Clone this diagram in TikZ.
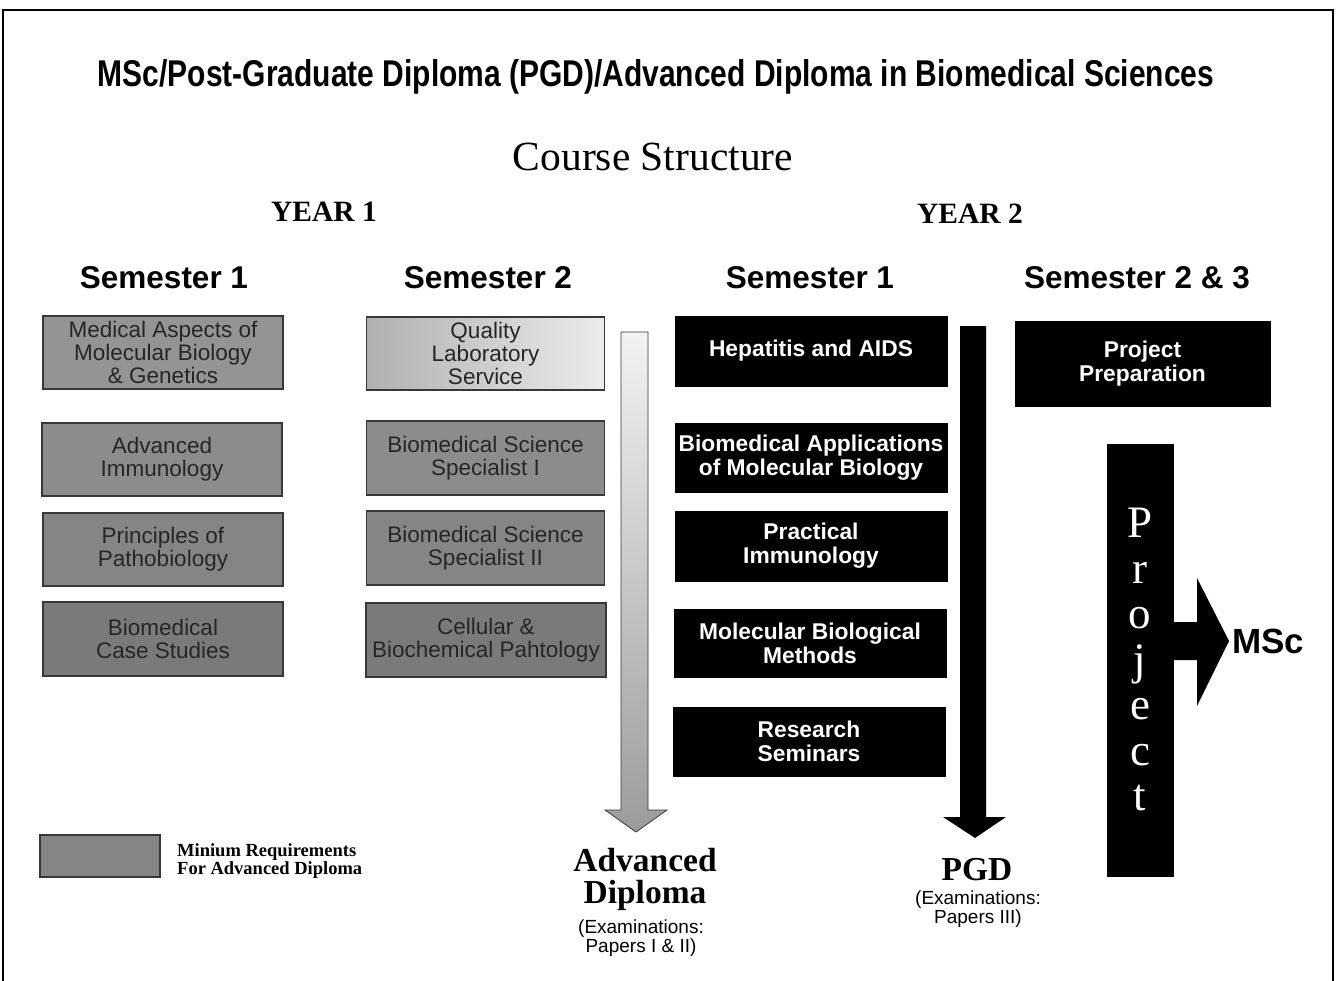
\documentclass[tikz,border=0pt]{standalone}
\usepackage{fontspec}
\setmainfont{Liberation Serif}
\setsansfont{Liberation Sans}
\usetikzlibrary{positioning}
\definecolor{gA}{gray}{0.58}
\definecolor{gB}{gray}{0.55}
\definecolor{gC}{gray}{0.52}
\definecolor{gD}{gray}{0.48}
\definecolor{gText}{gray}{0.15}
\definecolor{gEdge}{gray}{0.22}
\begin{document}
\begin{tikzpicture}[x=1pt,y=-1pt,
  graybox/.style={draw=gEdge, line width=1.3pt, text=gText,
    font=\sffamily\fontsize{22.5}{23}\selectfont, align=center,
    inner sep=0pt, minimum width=240pt, minimum height=73pt},
  blackbox/.style={draw=black, fill=black, text=white,
    font=\sffamily\bfseries\fontsize{22.8}{24}\selectfont, align=center,
    inner sep=0pt, minimum width=272pt, minimum height=69pt},
  semhead/.style={font=\sffamily\bfseries\fontsize{31.5}{34}\selectfont, inner sep=0pt},
  yearhead/.style={font=\bfseries\fontsize{29.5}{32}\selectfont, inner sep=0pt},
  bigserif/.style={font=\bfseries\fontsize{33.5}{32}\selectfont, align=center, inner sep=0pt},
  examtext/.style={font=\sffamily\fontsize{19}{19}\selectfont, align=center, inner sep=0pt},
  projletters/.style={font=\fontsize{45}{45.5}\selectfont, text=white, align=center, anchor=north, inner sep=0pt},
]
\useasboundingbox (0,0) rectangle (1337,981);
\fill[white] (0,0) rectangle (1337,981);

% frame
\draw[line width=2pt] (3,981) -- (3,10) -- (1333,10) -- (1333,981);

% titles
\node[inner sep=0pt] (title) at (656,77)
  {\resizebox{1116pt}{27pt}{\sffamily\bfseries MSc/Post-Graduate Diploma (PGD)/Advanced Diploma in Biomedical Sciences}};
\node[inner sep=0pt, font=\fontsize{41.5}{42}\selectfont] (course) at (653,157) {Course Structure};
\node[yearhead] (y1) at (324,212) {YEAR 1};
\node[yearhead] (y2) at (970,214) {YEAR 2};

\node[semhead] (s11) at (164,278) {Semester 1};
\node[semhead] (s12) at (488,278) {Semester 2};
\node[semhead] (s21) at (810,278) {Semester 1};
\node[semhead] (s23) at (1137,278) {Semester 2 \& 3};

% Year 1 Semester 1
\node[graybox, fill=gA] (a1) at (163,352.5) {Medical Aspects of\\Molecular Biology\\\& Genetics};
\node[graybox, fill=gB] (a2) at (162,459.5) {Advanced\\Immunology};
\node[graybox, fill=gC] (a3) at (163,549.5) {Principles of\\Pathobiology};
\node[graybox, fill=gD, minimum height=74pt] (a4) at (163,639) {Biomedical\\Case Studies};

% Year 1 Semester 2
\node[graybox, left color=gray!62, right color=gray!15, minimum width=238pt] (b1) at (485.5,353.5) {Quality\\Laboratory\\Service};
\node[graybox, fill=gB, minimum width=238pt, minimum height=74pt] (b2) at (485.5,458) {Biomedical Science\\Specialist I};
\node[graybox, fill=gC, minimum width=238pt, minimum height=74pt] (b3) at (485.5,548) {Biomedical Science\\Specialist II};
\node[graybox, fill=gD, minimum width=240pt, minimum height=74pt] (b4) at (486,640) {Cellular \&\\Biochemical Pahtology};

% Advanced diploma arrow (gray)
\coordinate (gtip) at (636,832);
\shade[top color=gray!10, bottom color=gray!78, draw=gEdge, line width=0.8pt]
  (621,332) -- (648,332) -- (648,810) -- (667,810) -- (gtip) -- (605,810) -- (621,810) -- cycle;

% Year 2 Semester 1 black boxes
\node[blackbox, minimum height=70pt] (c1) at (811,351) {Hepatitis and AIDS};
\node[blackbox] (c2) at (811,457.5) {Biomedical Applications\\of Molecular Biology};
\node[blackbox, minimum height=70pt] (c3) at (811,546) {Practical\\Immunology};
\node[blackbox, minimum height=68pt] (c4) at (810,643) {Molecular Biological\\Methods};
\node[blackbox] (c5) at (809,741.5) {Research\\Seminars};

% PGD arrow (black)
\coordinate (btip) at (975,838);
\fill[black] (960,326) -- (986,326) -- (986,817) -- (1006,817) -- (btip) -- (943,817) -- (960,817) -- cycle;

% Semester 2 & 3
\node[blackbox, minimum width=255pt, minimum height=85pt] (pp) at (1142.5,363.5) {Project\\Preparation};
\node[draw=black, fill=black, minimum width=66pt, minimum height=432pt, inner sep=0pt] (proj) at (1140,660) {};
\node[projletters] (projtext) at (1140,508) {P\\r\\o\\j\\e\\c\\t};

% MSc arrow
\node[anchor=west, inner sep=0pt, font=\sffamily\bfseries\fontsize{35}{36}\selectfont] (msc) at (1232,641) {MSc};
\fill[black] (proj.east |- 0,622) -- (1197,622) -- (1197,578) -- (1229,641) -- (1197,706) -- (1197,660) -- (proj.east |- 0,660) -- cycle;

% outcomes
\node[bigserif] (adv) at (645,879) {Advanced\\Diploma};
\node[examtext] (advx) at (641,938) {(Examinations:\\Papers I \& II)};
\node[bigserif] (pgd) at (977,870) {PGD};
\node[examtext] (pgdx) at (978,909) {(Examinations:\\Papers III)};

% legend
\node[draw=gEdge, line width=1.3pt, fill=gC, minimum width=120pt, minimum height=42pt, inner sep=0pt] (leg) at (100,856) {};
\node[anchor=west, align=left, inner sep=0pt, font=\bfseries\fontsize{18.5}{17.5}\selectfont] (legt) at (177,861) {Minium Requirements\\For Advanced Diploma};
\end{tikzpicture}
\end{document}
